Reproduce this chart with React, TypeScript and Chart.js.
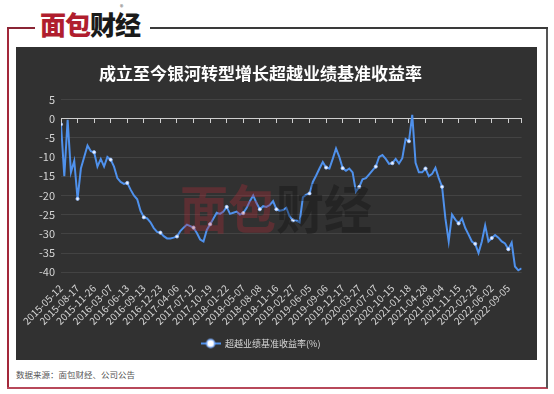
import React, { useEffect, useRef } from 'react';
import { Chart, registerables } from 'chart.js';

Chart.register(...registerables);

const TITLE = '成立至今银河转型增长超越业绩基准收益率';
const SERIES_NAME = '超越业绩基准收益率(%)';
const SOURCE_NOTE = '数据来源：面包财经、公司公告';

// date labels shown on the x axis, one every POINTS_PER_TICK points
const TICK_LABELS = [
  '2015-05-12', '2015-08-17', '2015-11-26', '2016-03-07', '2016-06-13', '2016-09-13',
  '2016-12-23', '2017-04-06', '2017-07-12', '2017-10-19', '2018-01-22', '2018-05-07',
  '2018-08-08', '2018-11-16', '2019-02-27', '2019-06-05', '2019-09-06', '2019-12-17',
  '2020-03-27', '2020-07-07', '2020-10-15', '2021-01-18', '2021-04-28', '2021-08-04',
  '2021-11-15', '2022-02-23', '2022-06-02', '2022-09-05',
];
const POINTS_PER_TICK = 5;

// excess return vs benchmark (%)
const EXCESS_RETURN = [
  -1.5, -15, -0.3, -14, -11, -20.9, -13, -10, -7, -8.5,
  -8.75, -12.5, -10.5, -12.5, -10, -10.7, -12.5, -15.5, -16.5, -17,
  -16.75, -18.5, -20, -21, -24, -25.7, -26, -27, -28.5, -29.5,
  -29.7, -30.6, -31.2, -31.2, -31, -30.7, -29.3, -28.4, -27.6, -28,
  -28.4, -29.8, -31.5, -32, -29, -27.5, -26, -24.5, -24.8, -24.2,
  -23, -24.8, -24.5, -24.2, -25, -24.6, -23.3, -21.5, -20, -22,
  -23.6, -22.8, -23, -22.5, -21.5, -23.6, -24, -23.8, -23.2, -25.5,
  -26.5, -26.5, -27, -20.5, -19.8, -19.5, -16.5, -14.8, -13, -11.3,
  -12.75, -13, -10.5, -7.8, -10, -12.9, -13.6, -13, -14, -19,
  -17.8, -15.8, -15.5, -14.5, -13.5, -12.5, -10, -9.5, -10.5, -11.8,
  -11.6, -10.5, -11.7, -10.3, -5.3, -5.9, 1, -11.5, -14, -14,
  -13, -15, -14.4, -12.8, -15.5, -17.75, -26, -32, -25, -26.3,
  -27.3, -26, -28.5, -30.2, -32, -32.6, -35, -32, -27.8, -32,
  -31.1, -30.3, -31, -32, -32.5, -34, -32.3, -38.5, -39.5, -39,
];

const Y_MIN = -40;
const Y_MAX = 5;
const Y_STEP = 5;

const LINE_COLOR = '#4f91ec';
const FONT = '"Noto Sans CJK SC", "Noto Sans", sans-serif';

function makeLegendIcon(): HTMLCanvasElement {
  const c = document.createElement('canvas');
  c.width = 20;
  c.height = 12;
  const ctx = c.getContext('2d')!;
  ctx.strokeStyle = LINE_COLOR;
  ctx.lineWidth = 2;
  ctx.beginPath();
  ctx.moveTo(0, 6);
  ctx.lineTo(20, 6);
  ctx.stroke();
  ctx.beginPath();
  ctx.arc(10, 6, 4, 0, Math.PI * 2);
  ctx.fillStyle = '#ffffff';
  ctx.fill();
  ctx.lineWidth = 1.5;
  ctx.strokeStyle = '#7fb0ff';
  ctx.stroke();
  return c;
}

const WATERMARK_CHARS = [
  { ch: '面', x: 182, color: 'rgba(185, 45, 55, 0.32)' },
  { ch: '包', x: 230, color: 'rgba(185, 45, 55, 0.32)' },
  { ch: '财', x: 278, color: 'rgba(15, 15, 15, 0.36)' },
  { ch: '经', x: 326, color: 'rgba(15, 15, 15, 0.36)' },
];

const watermarkPlugin = {
  id: 'watermark',
  afterDatasetsDraw(chart: any) {
    const ctx = chart.ctx;
    ctx.save();
    ctx.font = `bold 52px ${FONT}`;
    ctx.textBaseline = 'middle';
    ctx.textAlign = 'left';
    WATERMARK_CHARS.forEach((w) => {
      ctx.fillStyle = w.color;
      ctx.fillText(w.ch, w.x, 162, 48);
    });
    ctx.restore();
  },
};

function ChartPanel() {
  const ref = useRef<HTMLCanvasElement | null>(null);
  useEffect(() => {
    if (!ref.current) return;
    const lastIndex = EXCESS_RETURN.length - 1;
    const icon = makeLegendIcon();
    const data = EXCESS_RETURN.map((v, i) => ({ x: i, y: v }));
    const chart = new Chart(ref.current, {
      type: 'line',
      data: {
        datasets: [
          {
            label: SERIES_NAME,
            data,
            borderColor: LINE_COLOR,
            borderWidth: 2,
            tension: 0,
            pointRadius: (c: any) => (c.dataIndex % POINTS_PER_TICK === 0 ? 1.6 : 0),
            pointHoverRadius: 0,
            pointBackgroundColor: '#eef4ff',
            pointBorderColor: '#9cc2ff',
            pointBorderWidth: 0.8,
            xAxisID: 'x',
            yAxisID: 'y',
          },
        ],
      },
      options: {
        animation: false,
        responsive: false,
        maintainAspectRatio: false,
        layout: { padding: { left: 0, right: 1, top: 0, bottom: 2 } },
        plugins: {
          title: {
            display: true,
            text: TITLE,
            color: '#ffffff',
            font: { family: FONT, size: 17, weight: 'bold' },
            padding: { top: 16, bottom: 16 },
          },
          legend: {
            display: true,
            position: 'bottom',
            labels: {
              color: '#d8d8d8',
              font: { family: FONT, size: 9 },
              usePointStyle: true,
              pointStyleWidth: 20,
              padding: 10,
              generateLabels: (ch: any) => {
                const items = Chart.defaults.plugins.legend.labels.generateLabels(ch);
                return items.map((it: any) => ({ ...it, pointStyle: icon, fontColor: '#d8d8d8' }));
              },
            },
          },
          tooltip: { enabled: false },
        },
        scales: {
          x: {
            type: 'linear',
            position: 'bottom',
            min: 0,
            max: lastIndex,
            grid: { display: false },
            border: { display: false },
            ticks: {
              stepSize: POINTS_PER_TICK,
              includeBounds: false,
              autoSkip: false,
              minRotation: 45,
              maxRotation: 45,
              padding: 2,
              color: '#d4d4d4',
              font: { family: FONT, size: 10 },
              callback: (v: any) => {
                const k = Math.round(Number(v) / POINTS_PER_TICK);
                return Number(v) % POINTS_PER_TICK === 0 ? TICK_LABELS[k] ?? '' : '';
              },
            },
          },
          xZero: {
            type: 'linear',
            position: { y: 0 },
            min: 0,
            max: lastIndex,
            grid: { display: true, drawOnChartArea: false, drawTicks: true, tickLength: 4, color: '#cfcfcf' },
            border: { display: true, color: '#cfcfcf', width: 1 },
            ticks: { display: false, stepSize: POINTS_PER_TICK, includeBounds: false, autoSkip: false },
            afterBuildTicks: (scale: any) => {
              scale.ticks.push({ value: scale.max });
            },
          },
          y: {
            type: 'linear',
            min: Y_MIN,
            max: Y_MAX,
            grid: {
              drawTicks: false,
              color: (c: any) => (c.tick && c.tick.value === 0 ? 'rgba(0,0,0,0)' : 'rgba(255,255,255,0.09)'),
            },
            border: { display: false },
            ticks: {
              stepSize: Y_STEP,
              padding: 6,
              color: '#d4d4d4',
              font: { family: FONT, size: 11 },
            },
            afterFit: (scale: any) => {
              scale.width = 63;
            },
          },
        },
      },
      plugins: [watermarkPlugin],
    } as any);
    return () => chart.destroy();
  }, []);
  return (
    <canvas
      ref={ref}
      width={526}
      height={313}
      style={{ position: 'absolute', left: -2, top: 47, width: 526, height: 313 }}
    />
  );
}

export default function App() {
  return (
    <div
      style={{
        position: 'absolute',
        left: 0,
        top: 0,
        width: 554,
        height: 394,
        background: '#ffffff',
        overflow: 'hidden',
        fontFamily: FONT,
      }}
    >
      {/* frame */}
      <div style={{ position: 'absolute', left: 7, top: 27, width: 2, height: 361, background: '#a3283a' }} />
      <div style={{ position: 'absolute', left: 7, top: 387, width: 541, height: 2, background: '#b8485a' }} />
      <div style={{ position: 'absolute', left: 546, top: 27, width: 2, height: 361, background: '#555555' }} />
      <div style={{ position: 'absolute', left: 7, top: 27, width: 28, height: 2, background: '#8a2535' }} />
      <div style={{ position: 'absolute', left: 150, top: 27, width: 398, height: 2, background: '#3a3a3a' }} />
      {/* logo */}
      <div
        style={{
          position: 'absolute',
          left: 40,
          top: 8,
          fontSize: 26,
          fontWeight: 900,
          lineHeight: '32px',
          letterSpacing: -1,
          whiteSpace: 'nowrap',
        }}
      >
        <span style={{ color: '#b01e2e' }}>面包</span>
        <span style={{ color: '#1a1a1a' }}>财经</span>
      </div>
      <div style={{ position: 'absolute', left: 120, top: 2, fontSize: 7, color: '#555' }}>®</div>
      {/* dark panel */}
      <div style={{ position: 'absolute', left: 16, top: 47, width: 521, height: 313, background: '#313131' }} />
      <ChartPanel />
      <div
        style={{
          position: 'absolute',
          left: 16,
          top: 368,
          fontSize: 8.5,
          lineHeight: '12px',
          color: '#555555',
          whiteSpace: 'nowrap',
        }}
      >
        {SOURCE_NOTE}
      </div>
    </div>
  );
}
